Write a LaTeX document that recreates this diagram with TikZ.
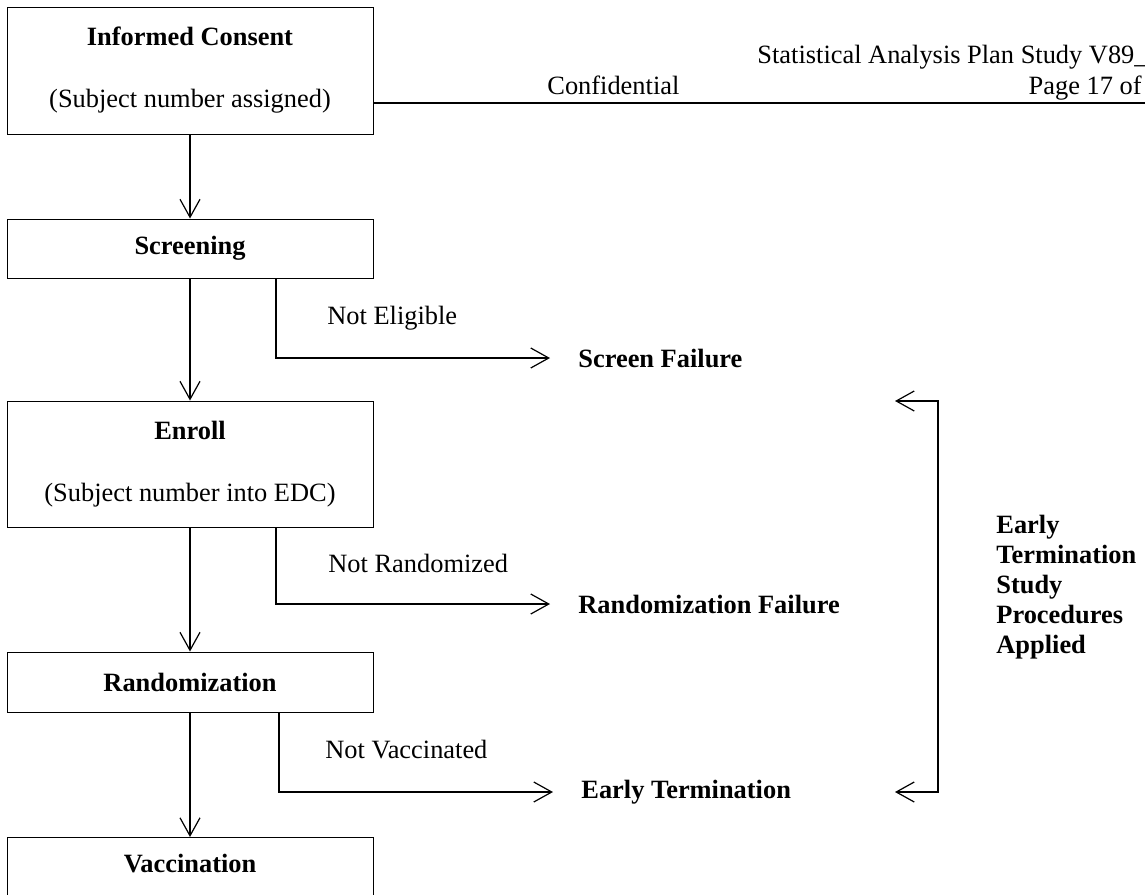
\documentclass[tikz,border=0pt]{standalone}
\usepackage{fontspec}
\setmainfont{Liberation Serif}
\usetikzlibrary{positioning,calc,arrows.meta}
\tikzset{font=\fontsize{13.2}{15}\selectfont,
	stepbox/.style={draw, line width=0.5pt, minimum width=183pt, inner sep=0pt, align=center},
	arw/.style={-{Straight Barb[length=9pt,width=10pt]}, line width=0.6pt},
	outcome/.style={anchor=west, inner xsep=14pt, inner ysep=0pt, font=\fontsize{13.2}{15}\selectfont\bfseries},
	reason/.style={anchor=west, inner sep=0pt}}

\begin{document}
\begin{tikzpicture}[x=0.5pt, y=-0.5pt]
	\useasboundingbox (0,0) rectangle (1145,894);
	\clip (0,0) rectangle (1145,894);
	\begin{scope}
		% flow of the subjects
		\node[stepbox, minimum height=63.5pt] (ic) at (190, 70.5) {\textbf{Informed Consent}\\[16pt](Subject number assigned)};
		\node[stepbox, minimum height=29.5pt] (scr) at (190, 248.5) {\textbf{Screening}};
		\node[stepbox, minimum height=63pt] (enr) at (190, 464) {\textbf{Enroll}\\[16pt](Subject number into EDC)};
		\node[stepbox, minimum height=30pt] (rnd) at (190, 682) {\textbf{Randomization}};
		\node[stepbox, anchor=north, text height=17.5pt, text depth=30pt] (vac) at (190, 837) {\textbf{Vaccination}};

		\node[outcome] (sf) at (550, 358) {Screen Failure};
		\node[outcome] (rf) at (550, 604) {Randomization Failure};
		\node[outcome] (et) at (553, 792) {Early Termination};

		\node[reason] (ne) at (327, 318) {Not Eligible};
		\node[reason] (nr) at (328, 563) {Not Randomized};
		\node[reason] (nv) at (325, 750) {Not Vaccinated};

		\draw[arw](ic) -- (scr);
		\draw[arw](scr) -- (enr);
		\draw[arw](enr) -- (rnd);
		\draw[arw](rnd) -- (vac);

		\draw[arw]([xshift=43pt]scr.south) |- (sf.west);
		\draw[arw]([xshift=43pt]enr.south) |- (rf.west);
		\draw[arw]([xshift=44.5pt]rnd.south) |- (et.west);

		% early termination bracket
		\coordinate (etTop) at (895, 401);
		\coordinate (etBot) at (895, 792);
		\draw[arw, {Straight Barb[length=9pt,width=10pt]}-{Straight Barb[length=9pt,width=10pt]}] (etTop) -- ++(43,0) |- (etBot);
		\node[anchor=west, inner sep=0pt, align=left, font=\fontsize{13.2}{15}\selectfont\bfseries] (etp) at (996, 587) {Early\\Termination\\Study\\Procedures\\Applied};

		% page header
		\coordinate (hdr) at (1145, 103);
		\draw[line width=1pt] (hdr -| ic.east) -- (hdr);
		\node[anchor=base west, inner sep=0pt] (conf) at (547, 94) {Confidential};
		\node[anchor=base east, inner sep=0pt] (page) at (1142, 94) {Page 17 of};
		\node[anchor=base east, inner sep=0pt] (sap) at (1148, 63) {Statistical Analysis Plan Study V89\_};
	\end{scope}
\end{tikzpicture}
\end{document}
